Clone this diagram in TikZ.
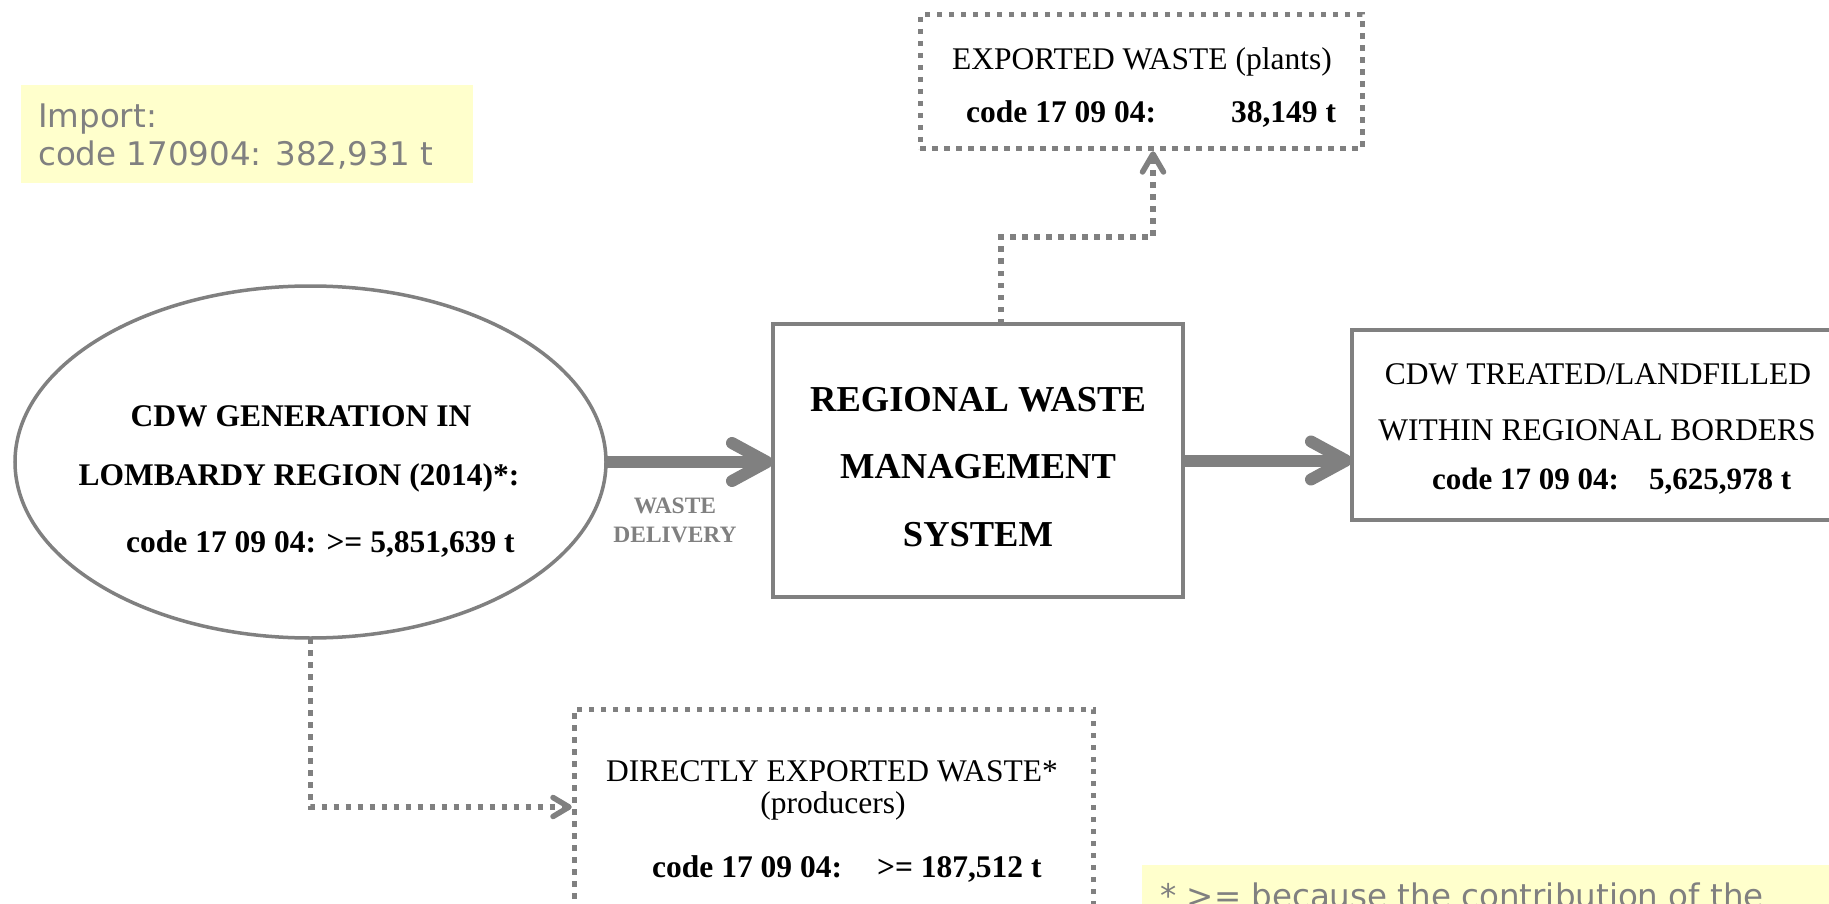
\documentclass[tikz,border=0pt]{standalone}
\usepackage{fontspec}
\setmainfont{Liberation Serif}
\newfontfamily\verd{DejaVu Sans}
\usetikzlibrary{shapes.geometric}
\definecolor{lgray}{RGB}{128,128,128}
\definecolor{lyellow}{RGB}{255,255,204}
\tikzset{
  solidbox/.style={draw=lgray, line width=3.5pt, inner sep=0pt, outer sep=0pt},
  dotbox/.style={draw=lgray, line width=5pt, dash pattern=on 5.5pt off 6.5pt, inner sep=0pt, outer sep=0pt},
  notebox/.style={fill=lyellow, inner sep=0pt, outer sep=0pt},
  bigline/.style={draw=lgray, line width=12pt},
  bighead/.style={draw=lgray, line width=12pt, line cap=round, line join=round},
  dotline/.style={draw=lgray, line width=5.5pt, dash pattern=on 5.5pt off 6.5pt},
  smallhead/.style={draw=lgray, line width=5.5pt, line cap=round, line join=round},
  regtxt/.style={font=\fontsize{31.5}{36}\selectfont, inner sep=0pt, anchor=base},
  boldtxt/.style={font=\fontsize{31.5}{36}\selectfont\bfseries, inner sep=0pt, anchor=base},
  bigtxt/.style={font=\fontsize{36.5}{40}\selectfont\bfseries, inner sep=0pt, anchor=base},
  notetxt/.style={font=\verd\fontsize{32.5}{38}\selectfont, text=lgray, inner sep=0pt, anchor=base west},
}
\begin{document}
\begin{tikzpicture}[x=1pt,y=-1pt]
\useasboundingbox (0,0) rectangle (1829,904);
\clip (0,0) rectangle (1829,904);
\fill[white] (0,0) rectangle (1829,904);

% yellow notes
\node[notebox, minimum width=452pt, minimum height=98pt] (imp) at (247,134) {};
\node[notetxt] (imp1) at (38,128) {Import:};
\node[notetxt] (imp2) at (38,166) {code 170904: 382,931 t};

\node[notebox, minimum width=700pt, minimum height=60pt] (note) at (1492,895) {};
\node[notetxt] (note1) at (1160,907) {* >= because the contribution of the};

% generation ellipse
\node[ellipse, draw=lgray, line width=3.5pt, minimum width=591pt, minimum height=352pt, inner sep=0pt, outer sep=0pt] (gen) at (310.5,462) {};
\node[boldtxt] (g1) at (301,426) {CDW GENERATION IN};
\node[boldtxt] (g2) at (299,485) {LOMBARDY REGION (2014)*:};
\node[boldtxt, anchor=base west] (g3) at (126,552) {code 17 09 04: >= 5,851,639 t};

% regional waste management system
\node[solidbox, minimum width=410pt, minimum height=273pt] (rwms) at (978,460.5) {};
\node[bigtxt] (r1) at (978,411) {REGIONAL WASTE};
\node[bigtxt] (r2) at (978,478) {MANAGEMENT};
\node[bigtxt] (r3) at (978,546) {SYSTEM};

% exported waste (plants)
\node[dotbox, minimum width=442pt, minimum height=134pt] (exp) at (1141,82) {};
\node[regtxt] (e1) at (1142,70) {EXPORTED WASTE (plants)};
\node[boldtxt, anchor=base west] (e2) at (966,123) {code 17 09 04:\hspace{75pt}38,149 t};

% treated / landfilled
\node[solidbox, minimum width=500pt, minimum height=190pt] (cdw) at (1602,425) {};
\node[regtxt] (c1) at (1598,384) {CDW TREATED/LANDFILLED};
\node[regtxt] (c2) at (1597,440) {WITHIN REGIONAL BORDERS};
\node[boldtxt, anchor=base west, font=\fontsize{31}{36}\selectfont\bfseries] (c3) at (1432,489) {code 17 09 04:\hspace{30pt}5,625,978 t};

% directly exported
\node[dotbox, minimum width=519pt, minimum height=230pt] (dir) at (833.5,824) {};
\node[regtxt] (d1) at (832,781) {DIRECTLY EXPORTED WASTE*};
\node[regtxt] (d2) at (833,813) {(producers)};
\node[boldtxt, anchor=base west] (d3) at (652,877) {code 17 09 04:\hspace{35pt}>= 187,512 t};

% waste delivery label
\node[font=\fontsize{23.5}{29}\selectfont\bfseries, text=lgray, align=center, inner sep=0pt] (wd) at (675,520) {WASTE\\DELIVERY};

% main arrows
\coordinate (a1) at (gen.east -| rwms.west);
\draw[bigline, shorten >=7pt] (gen.east) -- (a1);
\coordinate (t1) at ([xshift=-6pt]a1);
\draw[bighead] ([shift={(-35pt,19pt)}]t1) -- (t1) -- ([shift={(-35pt,-19pt)}]t1);

\coordinate (a2) at (rwms.east -| cdw.west);
\draw[bigline, shorten >=7pt] (rwms.east) -- (a2);
\coordinate (t2) at ([xshift=-6pt]a2);
\draw[bighead] ([shift={(-35pt,19pt)}]t2) -- (t2) -- ([shift={(-35pt,-19pt)}]t2);

% dotted connector to exported waste
\coordinate (s1) at ([xshift=23pt]rwms.north);
\coordinate (j1) at ([xshift=12pt,yshift=-5pt]exp.south);
\coordinate (k1) at (1001,237);
\draw[dotline] (s1) -- (k1) -- (k1 -| j1) -- (j1);
\draw[smallhead] ([shift={(-10.5pt,-18pt)}]j1) -- (j1) -- ([shift={(10.5pt,-18pt)}]j1);

% dotted connector to directly exported
\coordinate (j2) at ([xshift=-5pt,yshift=17pt]dir.west);
\draw[dotline] (gen.south) |- (j2);
\draw[smallhead] ([shift={(-16pt,9.5pt)}]j2) -- (j2) -- ([shift={(-16pt,-9.5pt)}]j2);
\end{tikzpicture}
\end{document}
